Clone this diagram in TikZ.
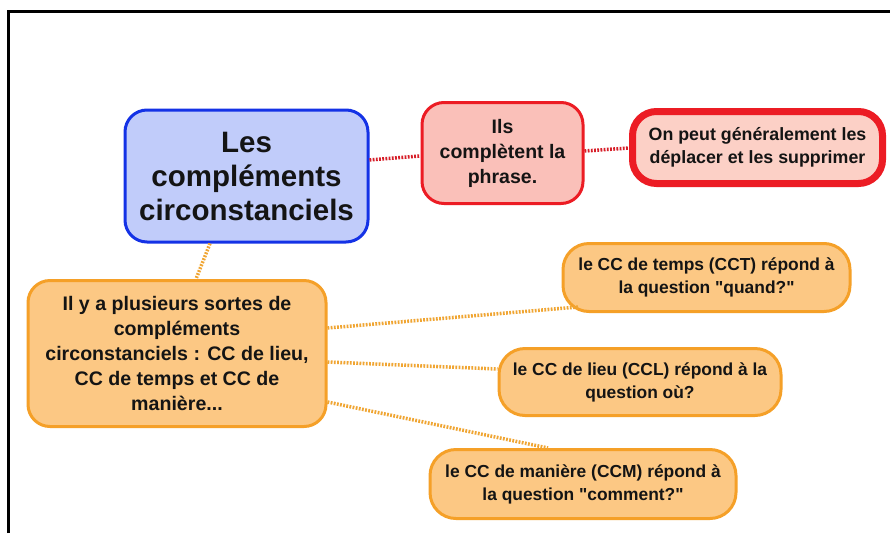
\documentclass[tikz,border=0pt]{standalone}
\usepackage{fontspec}
\setmainfont{Liberation Sans}
\newfontfamily\qf{Liberation Sans}[Ligatures=TeXOff]
\definecolor{bluefill}{RGB}{193,204,250}
\definecolor{blueline}{RGB}{20,50,230}
\definecolor{redfill}{RGB}{250,192,185}
\definecolor{redline}{RGB}{236,28,36}
\definecolor{redfilltwo}{RGB}{252,208,198}
\definecolor{orfill}{RGB}{252,200,132}
\definecolor{orline}{RGB}{245,160,40}
\definecolor{ordot}{RGB}{240,165,50}
\definecolor{reddot}{RGB}{215,30,40}
\newcommand{\dq}{{\qf"}}
\tikzset{
  box/.style={rectangle, rounded corners=22pt, inner sep=0pt, align=center, text=black!92},
  bluebox/.style={box, draw=blueline, fill=bluefill, line width=3pt},
  redbox/.style={box, draw=redline, fill=redfill, line width=3pt},
  redboxtwo/.style={box, draw=redline, fill=redfilltwo, line width=7pt},
  orbox/.style={box, draw=orline, fill=orfill, line width=3pt},
  ordots/.style={draw=ordot, line width=3.5pt, dash pattern=on 1.8pt off 1.4pt},
  reddots/.style={draw=reddot, line width=3.5pt, dash pattern=on 1.8pt off 1.4pt}
}
\begin{document}
\begin{tikzpicture}[x=1pt,y=-1pt]
\useasboundingbox (0,0) rectangle (890,533);
\fill[white] (0,0) rectangle (890,533);
\draw[black, line width=3pt] (8,533) -- (8,11) -- (892,11);

\node[bluebox, minimum width=243pt, minimum height=132pt, font=\bfseries\fontsize{29.5}{34}\selectfont] (main) at (246.5,176) {Les\\compléments\\circonstanciels};
\node[redbox, minimum width=161pt, minimum height=101pt, font=\bfseries\fontsize{19.5}{25}\selectfont] (r1) at (502.5,153) {Ils\\complètent la\\phrase.};
\node[redboxtwo, minimum width=250pt, minimum height=72pt, rounded corners=24pt, font=\bfseries\fontsize{17.8}{23}\selectfont] (r2) at (757.5,147.5) {On peut généralement les\\déplacer et les supprimer};
\node[orbox, minimum width=298pt, minimum height=146pt, font=\bfseries\fontsize{19.6}{25.2}\selectfont] (o) at (177,353.5) {Il y a plusieurs sortes de\\compléments\\circonstanciels : CC de lieu,\\CC de temps et CC de\\manière...};
\node[orbox, minimum width=287pt, minimum height=68pt, rounded corners=26pt, font=\bfseries\fontsize{17.4}{23}\selectfont] (cct) at (706.5,277.5) {le CC de temps (CCT) répond à\\la question \dq quand?\dq};
\node[orbox, minimum width=282pt, minimum height=67pt, rounded corners=26pt, font=\bfseries\fontsize{17.4}{23}\selectfont] (ccl) at (640,382) {le CC de lieu (CCL) répond à la\\question où?};
\node[orbox, minimum width=306pt, minimum height=69pt, rounded corners=26pt, font=\bfseries\fontsize{17.4}{23}\selectfont] (ccm) at (583,484) {le CC de manière (CCM) répond à\\la question \dq comment?\dq};

\draw[reddots] (main.east |- 0,160) -- (r1.west |- 0,156);
\draw[reddots] (r1.east |- 0,151) -- (r2.west |- 0,148);
\draw[ordots] (main.south -| 210,0) -- (o.north -| 196,0);
\draw[ordots] (o.east |- 0,328) -- (578,307) coordinate (ctend);
\draw[ordots] (o.east |- 0,362) -- (ccl.west |- 0,369);
\draw[ordots] (o.east |- 0,402) -- (ccm.north -| 548,0);
\end{tikzpicture}
\end{document}
